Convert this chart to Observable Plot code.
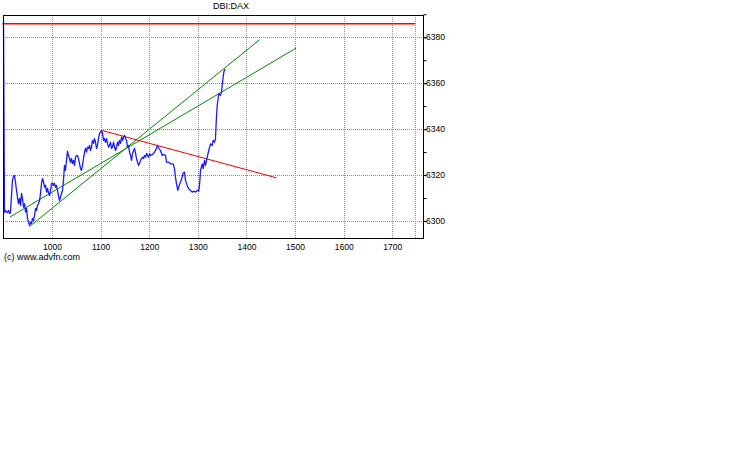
<!DOCTYPE html>
<html>
<head>
<meta charset="utf-8">
<script src="https://cdn.jsdelivr.net/npm/d3@7"></script>
<script src="https://cdn.jsdelivr.net/npm/@observablehq/plot@0.6"></script>
<style>
  html, body { margin: 0; padding: 0; background: #fff; }
  body { width: 738px; height: 475px; position: relative; overflow: hidden; font-family: "Liberation Sans", Arial, sans-serif; }
  #chart { position: absolute; left: 0; top: 0; }
  #title { position: absolute; top: 1px; left: 190px; width: 82px; text-align: center; font-size: 9px; color: #000; }
  #caption { position: absolute; top: 252px; left: 4px; font-size: 9px; color: #000; }
</style>
</head>
<body>
<div id="chart"></div>
<div id="title">DBI:DAX</div>
<div id="caption">(c) www.advfn.com</div>
<script>
// ---- data ----
const times = [899.2,901.3,903.3,905.4,907.4,909.5,911.6,913.6,915.7,917.7,919.8,921.9,923.9,926.0,928.0,930.1,932.2,934.2,936.3,938.3,940.4,942.5,944.5,946.6,948.6,950.7,952.8,954.8,956.9,958.9,961.0,963.1,965.1,967.2,969.2,971.3,973.4,975.4,977.5,979.5,981.6,983.7,985.7,987.8,989.8,991.9,994.0,996.0,998.1,1000.0,1002.1,1004.1,1006.2,1008.2,1010.3,1012.3,1014.4,1016.5,1018.5,1020.6,1022.6,1024.7,1026.7,1028.8,1030.9,1032.9,1035.0,1037.0,1039.1,1041.2,1043.2,1045.3,1047.3,1049.4,1051.4,1053.5,1055.6,1057.6,1059.7,1061.7,1063.8,1065.9,1067.9,1070.0,1072.0,1074.1,1076.2,1078.2,1080.3,1082.3,1084.4,1086.5,1088.5,1090.6,1092.6,1094.7,1096.7,1098.8,1100.9,1102.9,1105.0,1107.0,1109.1,1111.2,1113.2,1115.3,1117.3,1119.4,1121.5,1123.5,1125.6,1127.6,1129.7,1131.8,1133.8,1135.9,1137.9,1140.0,1142.1,1144.1,1146.2,1148.2,1150.3,1152.3,1154.4,1156.5,1158.5,1160.6,1162.6,1164.7,1166.8,1168.8,1170.9,1172.9,1175.0,1177.1,1179.1,1181.2,1183.2,1185.3,1187.4,1189.4,1191.5,1193.5,1195.6,1197.5,1199.7,1201.6,1205.8,1209.9,1214.0,1216.0,1218.1,1222.2,1225.7,1228.4,1232.5,1234.5,1239.3,1242.7,1248.3,1250.9,1253.0,1255.1,1257.8,1259.8,1261.9,1264.8,1268.9,1271.6,1273.6,1277.1,1280.4,1283.9,1287.4,1290.7,1294.2,1297.7,1301.0,1303.0,1304.5,1308.0,1310.0,1312.7,1314.8,1318.2,1321.5,1325.0,1328.5,1330.6,1333.3,1335.3,1336.8,1338.8,1342.1,1345.6,1347.7,1349.1,1350.3,1352.4,1354.4];
const prices = [6387.5,6304.1,6304.8,6304.1,6303.9,6304.8,6303.5,6303.9,6311.3,6317.9,6319.6,6320.0,6317.1,6313.5,6310.6,6307.8,6310.0,6307.0,6312.2,6310.0,6306.2,6307.8,6304.1,6305.7,6301.3,6299.7,6298.3,6299.7,6299.1,6301.3,6300.4,6302.6,6305.7,6304.8,6307.0,6307.8,6309.1,6312.2,6316.6,6318.7,6317.1,6314.9,6315.7,6312.8,6314.4,6312.2,6311.3,6313.5,6316.6,6316.7,6315.7,6316.6,6314.9,6315.7,6313.5,6311.3,6309.1,6310.6,6312.2,6313.5,6317.9,6324.4,6322.2,6326.6,6330.6,6328.7,6327.4,6325.8,6327.4,6325.3,6326.6,6324.4,6328.0,6328.7,6328.7,6327.4,6325.3,6323.1,6322.2,6324.4,6327.4,6330.2,6331.8,6330.2,6332.4,6331.8,6333.1,6330.9,6332.4,6335.3,6334.0,6336.1,6334.5,6331.8,6333.1,6336.1,6338.3,6338.9,6339.6,6338.3,6335.3,6336.1,6334.5,6336.1,6334.0,6332.4,6333.1,6334.5,6331.8,6332.4,6334.5,6332.4,6330.9,6332.4,6334.5,6333.1,6335.3,6334.0,6336.7,6335.3,6336.7,6337.5,6336.1,6335.3,6332.4,6333.1,6330.2,6328.7,6326.6,6329.6,6330.9,6331.8,6329.6,6327.4,6325.8,6324.4,6325.3,6326.6,6327.4,6328.0,6327.4,6328.7,6328.0,6329.6,6328.7,6328.0,6329.6,6328.7,6329.2,6330.2,6331.8,6333.1,6332.2,6330.9,6328.7,6329.2,6328.7,6325.8,6325.8,6325.1,6325.1,6323.0,6319.3,6316.4,6313.5,6315.2,6316.4,6317.9,6321.0,6321.5,6317.9,6315.7,6314.2,6313.5,6312.8,6313.2,6312.8,6313.5,6313.2,6317.1,6322.2,6325.1,6323.0,6326.6,6324.4,6328.0,6330.9,6333.8,6333.1,6335.3,6334.5,6336.0,6343.2,6350.5,6355.6,6354.9,6356.3,6359.2,6361.4,6365.0,6366.2];

// trend lines drawn on the chart: start/end points
const trendX1 = [952.8, 912.2, 1102.2];
const trendY1 = [6297.8, 6301.9, 6339.6];
const trendX2 = [1425.8, 1501.3, 1460.8];
const trendY2 = [6379.1, 6375.5, 6319.0];
const trendKind = ["support", "support", "resistance"];

// reference level (red horizontal line) and its extent
const refLevel = 6386.1;
const refStart = 898.2;
const refEnd = 1746.8;

// scales and ticks
const xDomain = [898.2, 1762.2];
const yDomain = [6292.8, 6389.9];
const xTicks = [1000, 1100, 1200, 1300, 1400, 1500, 1600, 1700];
const xGridExtra = [1746.8];
const yTicksMinor = [6300, 6310, 6320, 6330, 6340, 6350, 6360, 6370, 6380, 6390];
const yTicks = [6300, 6320, 6340, 6360, 6380];

// ---- build ----
const series = times.map((t, i) => ({t, p: prices[i]}));
const trends = trendX1.map((x1, i) => ({x1, y1: trendY1[i], x2: trendX2[i], y2: trendY2[i], kind: trendKind[i]}));

const chart = Plot.plot({
  width: 450,
  height: 252,
  marginLeft: 2.5,
  marginRight: 27.5,
  marginTop: 14.5,
  marginBottom: 14.5,
  style: {fontFamily: "'Liberation Sans', Arial, sans-serif", fontSize: "8.5px", background: "#fff", color: "#000"},
  x: {domain: xDomain},
  y: {domain: yDomain},
  marks: [
    Plot.ruleY(yTicks, {stroke: "#8a8a8a", strokeDasharray: "1,1", strokeWidth: 1, shapeRendering: "crispEdges"}),
    Plot.ruleX(xTicks.concat(xGridExtra), {stroke: "#6f9c9c", strokeDasharray: "1,1", strokeWidth: 1, shapeRendering: "crispEdges"}),
    Plot.ruleY([refLevel], {x1: refStart, x2: refEnd, stroke: "#ff0000", strokeWidth: 1.6}),
    Plot.link(trends, {x1: "x1", y1: "y1", x2: "x2", y2: "y2",
      stroke: d => d.kind === "support" ? "#008a00" : "#ee0000", strokeWidth: 1}),
    Plot.line(series, {x: "t", y: "p", stroke: "#1a1aff", strokeWidth: 1.3}),
    Plot.frame({stroke: "#000", strokeWidth: 1, shapeRendering: "crispEdges"}),
    Plot.axisX(xTicks, {anchor: "bottom", tickSize: 0, tickPadding: 6, fontSize: 8.5, tickFormat: d => String(d)}),
    Plot.axisY(yTicksMinor, {anchor: "right", tickSize: 3, tickFormat: () => ""}),
    Plot.axisY(yTicks, {anchor: "right", tickSize: 3, tickPadding: 0, fontSize: 8.5, tickFormat: d => String(d)})
  ]
});
document.getElementById("chart").appendChild(chart);
</script>
</body>
</html>
